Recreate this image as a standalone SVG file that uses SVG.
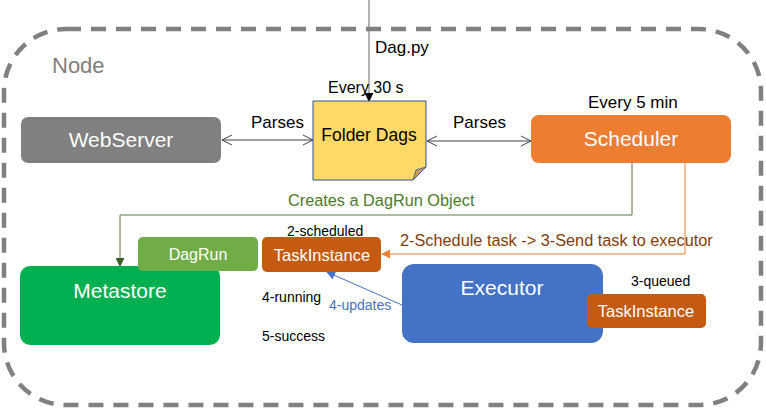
<svg xmlns="http://www.w3.org/2000/svg" width="766" height="409" viewBox="0 0 766 409">
<defs>
<style>
text{font-family:"Liberation Sans",Arial,sans-serif;}
.lbl{fill:#000;}
.nodeTxt{fill:#fff;text-anchor:middle;}
.big{font-size:21px;}
</style>
<marker id="open" viewBox="0 0 12 12" refX="11" refY="6" markerWidth="12" markerHeight="12" markerUnits="userSpaceOnUse" orient="auto-start-reverse">
<path d="M1,1 L11,6 L1,11" fill="none" stroke="#404040" stroke-width="1"/>
</marker>
<marker id="blk" viewBox="0 0 10 10" refX="9" refY="5" markerWidth="9" markerHeight="9" markerUnits="userSpaceOnUse" orient="auto">
<path d="M0,0 L10,5 L0,10 z" fill="#000"/>
</marker>
<marker id="grn" viewBox="0 0 10 10" refX="9" refY="5" markerWidth="9" markerHeight="9" markerUnits="userSpaceOnUse" orient="auto">
<path d="M0,0 L10,5 L0,10 z" fill="#3B5E22"/>
</marker>
<marker id="org" viewBox="0 0 10 10" refX="9" refY="5" markerWidth="9" markerHeight="9" markerUnits="userSpaceOnUse" orient="auto">
<path d="M0,0 L10,5 L0,10 z" fill="#ED7D31"/>
</marker>
<marker id="blu" viewBox="0 0 10 10" refX="9" refY="5" markerWidth="9" markerHeight="9" markerUnits="userSpaceOnUse" orient="auto">
<path d="M0,0 L10,5 L0,10 z" fill="#4472C4"/>
</marker>
</defs>
<rect width="766" height="409" fill="#fff"/>

<g id="node-boundary">
<rect x="4" y="29" width="757" height="376" rx="62" ry="62" fill="none" stroke="#808080" stroke-width="4.5" stroke-dasharray="15 10"/>
<text x="52" y="73" font-size="22" fill="#7F7F7F">Node</text>
</g>

<g id="connectors">
<line x1="369" y1="0" x2="369" y2="101" stroke="#808080" stroke-width="1.2" marker-end="url(#blk)"/>
<line x1="222" y1="140" x2="313" y2="140" stroke="#404040" stroke-width="1" marker-start="url(#open)" marker-end="url(#open)"/>
<line x1="427" y1="141" x2="531" y2="141" stroke="#404040" stroke-width="1" marker-start="url(#open)" marker-end="url(#open)"/>
<polyline points="632,163 632,215 120,215 120,266" fill="none" stroke="#5A7A45" stroke-width="1" marker-end="url(#grn)"/>
<polyline points="685,163 685,254 382,254" fill="none" stroke="#ED7D31" stroke-width="1" marker-end="url(#org)"/>
<line x1="402" y1="305" x2="327" y2="272" stroke="#4472C4" stroke-width="1" marker-end="url(#blu)"/>
<text x="375" y="53" class="lbl" font-size="17">Dag.py</text>
<text x="328" y="93" class="lbl" font-size="16">Every 30 s</text>
<text x="588" y="108" class="lbl" font-size="17">Every 5 min</text>
<text x="251" y="128" class="lbl" font-size="17">Parses</text>
<text x="453" y="128" class="lbl" font-size="17">Parses</text>
<text x="288" y="206" font-size="16.3" fill="#4E7A2C">Creates a DagRun Object</text>
<text x="400" y="246" font-size="16.3" fill="#843C0C">2-Schedule task -&gt; 3-Send task to executor</text>
<text x="329" y="310" font-size="14" fill="#4472C4">4-updates</text>
</g>

<g id="webserver">
<rect x="21" y="117" width="200" height="46" rx="7" fill="#808080"/>
<text x="121" y="147" class="nodeTxt big">WebServer</text>
</g>

<g id="folder-dags">
<path d="M313,101 H426 V167 L413,180 H313 Z" fill="#FFD966" stroke="#2F528F" stroke-width="1"/>
<path d="M413,180 L416,170 L426,167 Z" fill="#C9A44A" stroke="#2F528F" stroke-width="0.8"/>
<text x="369" y="141" class="lbl" font-size="17.5" text-anchor="middle">Folder Dags</text>
</g>

<g id="scheduler">
<rect x="531" y="115" width="200" height="48" rx="8" fill="#ED7D31"/>
<text x="631" y="146" class="nodeTxt big">Scheduler</text>
</g>

<g id="metastore">
<rect x="20" y="266" width="200" height="79" rx="10" fill="#00B050"/>
<text x="120" y="298" class="nodeTxt big">Metastore</text>
</g>

<g id="dagrun">
<rect x="138" y="237" width="120" height="34" rx="5" fill="#70AD47"/>
<text x="198" y="260" class="nodeTxt" font-size="16">DagRun</text>
</g>

<g id="taskinstance-scheduled">
<text x="287" y="236" class="lbl" font-size="14">2-scheduled</text>
<rect x="262" y="237" width="119" height="35" rx="5" fill="#C55A11"/>
<text x="322" y="261" class="nodeTxt" font-size="16.5">TaskInstance</text>
<text x="262" y="302" class="lbl" font-size="14">4-running</text>
<text x="262" y="341" class="lbl" font-size="14">5-success</text>
</g>

<g id="executor">
<rect x="402" y="264" width="201" height="79" rx="12" fill="#4472C4"/>
<text x="502" y="295" class="nodeTxt big">Executor</text>
</g>

<g id="taskinstance-queued">
<text x="631" y="286" class="lbl" font-size="14">3-queued</text>
<rect x="587" y="294" width="119" height="34" rx="5" fill="#C55A11"/>
<text x="646" y="317" class="nodeTxt" font-size="16.5">TaskInstance</text>
</g>
</svg>
